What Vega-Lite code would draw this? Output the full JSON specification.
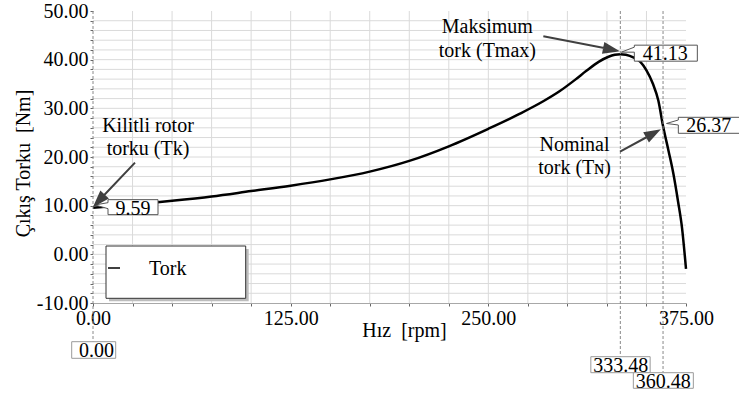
{
  "$schema": "https://vega.github.io/schema/vega-lite/v6.json",
  "width": 593,
  "height": 292,
  "autosize": {"type": "none"},
  "padding": {"left": 93, "top": 11, "right": 53, "bottom": 93},
  "config": {
    "view": {"stroke": null},
    "font": "Liberation Serif, Times New Roman, serif",
    "text": {"font": "Liberation Serif, Times New Roman, serif", "fontSize": 20, "color": "black"}
  },
  "resolve": {"axis": {"x": "independent", "y": "independent"}},
  "datasets": {
    "curve": [
      {"rpm": 0, "tork": 9.59},
      {"rpm": 25, "tork": 10.2},
      {"rpm": 50, "tork": 11.0},
      {"rpm": 75, "tork": 11.9},
      {"rpm": 100, "tork": 13.0},
      {"rpm": 125, "tork": 14.1},
      {"rpm": 150, "tork": 15.4},
      {"rpm": 175, "tork": 17.0},
      {"rpm": 200, "tork": 19.2},
      {"rpm": 225, "tork": 22.2},
      {"rpm": 250, "tork": 25.8},
      {"rpm": 270, "tork": 28.9},
      {"rpm": 285, "tork": 31.5},
      {"rpm": 295, "tork": 33.5},
      {"rpm": 305, "tork": 35.9},
      {"rpm": 312, "tork": 37.7},
      {"rpm": 320, "tork": 39.6},
      {"rpm": 326, "tork": 40.6},
      {"rpm": 330, "tork": 41.0},
      {"rpm": 333.48, "tork": 41.13},
      {"rpm": 337, "tork": 41.0},
      {"rpm": 342, "tork": 40.4},
      {"rpm": 346, "tork": 39.6},
      {"rpm": 350, "tork": 37.8},
      {"rpm": 354, "tork": 35.1},
      {"rpm": 357.5, "tork": 31.6},
      {"rpm": 360.48, "tork": 26.37},
      {"rpm": 364, "tork": 21.2},
      {"rpm": 367, "tork": 16.6},
      {"rpm": 370, "tork": 10.8},
      {"rpm": 372.5, "tork": 5.4},
      {"rpm": 375, "tork": -3.0}
    ],
    "markers": [
      {"key": "Tk", "rpm": 0, "tork": 9.59, "note": "Kilitli rotor\ntorku (Tk)"},
      {"key": "Tmax", "rpm": 333.48, "tork": 41.13, "note": "Maksimum\ntork (Tmax)"},
      {"key": "TN", "rpm": 360.48, "tork": 26.37, "note": "Nominal\ntork (Tɴ)"}
    ],
    "rpmGrid": [
      {"rpm": 25}, {"rpm": 50}, {"rpm": 75}, {"rpm": 100}, {"rpm": 125}, {"rpm": 150}, {"rpm": 175},
      {"rpm": 200}, {"rpm": 225}, {"rpm": 250}, {"rpm": 275}, {"rpm": 300}, {"rpm": 325}, {"rpm": 350}
    ],
    "torkGrid": [
      {"tork": -8}, {"tork": -6}, {"tork": -4}, {"tork": -2}, {"tork": 0}, {"tork": 2}, {"tork": 4},
      {"tork": 6}, {"tork": 8}, {"tork": 10}, {"tork": 12}, {"tork": 14}, {"tork": 16}, {"tork": 18},
      {"tork": 20}, {"tork": 22}, {"tork": 24}, {"tork": 26}, {"tork": 28}, {"tork": 30}, {"tork": 32},
      {"tork": 34}, {"tork": 36}, {"tork": 38}, {"tork": 40}, {"tork": 42}, {"tork": 44}, {"tork": 46},
      {"tork": 48}
    ],
    "series": [{"series": "Tork"}]
  },
  "layer": [
    {
      "data": {"name": "rpmGrid"},
      "mark": {"type": "rule", "color": "#dadada", "strokeWidth": 1},
      "encoding": {"x": {"field": "rpm", "type": "quantitative", "axis": null}}
    },
    {
      "data": {"name": "torkGrid"},
      "mark": {"type": "rule", "color": "#dadada", "strokeWidth": 1},
      "encoding": {"y": {"field": "tork", "type": "quantitative", "axis": null}}
    },
    {
      "data": {"name": "curve"},
      "mark": {"type": "line", "color": "black", "strokeWidth": 2.5, "interpolate": "monotone"},
      "encoding": {
        "x": {
          "field": "rpm", "type": "quantitative",
          "scale": {"domain": [0, 375], "nice": false, "zero": false},
          "axis": {
            "orient": "bottom",
            "grid": false,
            "title": "Hız\u00a0 [rpm]",
            "values": [0, 25, 50, 75, 100, 125, 150, 175, 200, 225, 250, 275, 300, 325, 350, 375],
            "labelExpr": "datum.value % 125 === 0 ? format(datum.value, '.2f') : ''",
            "labelFlush": false,
            "labelOverlap": false,
            "labelFont": "Liberation Serif, Times New Roman, serif",
            "labelFontSize": 20,
            "labelColor": "black",
            "labelPadding": 2,
            "tickSize": 3,
            "tickColor": "#666666",
            "domainColor": "#a8a8a8",
            "titleFont": "Liberation Serif, Times New Roman, serif",
            "titleFontSize": 20,
            "titleFontWeight": "normal",
            "titleColor": "black",
            "titleX": 311,
            "titleY": 33,
            "titleAlign": "center",
            "titleBaseline": "alphabetic"
          }
        },
        "y": {
          "field": "tork", "type": "quantitative",
          "scale": {"domain": [-10, 50], "nice": false, "zero": false},
          "axis": {
            "orient": "left",
            "grid": false,
            "title": "Çıkış Torku\u00a0 [Nm]",
            "values": [-10, -8, -6, -4, -2, 0, 2, 4, 6, 8, 10, 12, 14, 16, 18, 20, 22, 24, 26, 28, 30, 32, 34, 36, 38, 40, 42, 44, 46, 48, 50],
            "labelExpr": "datum.value % 10 === 0 ? (datum.value < 0 ? '-' : '') + format(abs(datum.value), '.2f') : ''",
            "labelOverlap": false,
            "labelFlush": false,
            "labelFont": "Liberation Serif, Times New Roman, serif",
            "labelFontSize": 20,
            "labelColor": "black",
            "labelPadding": 2,
            "tickSize": 3,
            "tickColor": "#666666",
            "domain": false,
            "titleFont": "Liberation Serif, Times New Roman, serif",
            "titleFontSize": 20,
            "titleFontWeight": "normal",
            "titleColor": "black",
            "titleAngle": -90,
            "titleX": -64,
            "titleY": 152,
            "titleAlign": "center",
            "titleBaseline": "alphabetic"
          }
        }
      }
    },
    {
      "mark": {"type": "rule", "color": "black", "strokeWidth": 1},
      "encoding": {"y": {"datum": 50, "type": "quantitative", "axis": null}}
    },
    {
      "mark": {"type": "rule", "color": "black", "strokeWidth": 1},
      "encoding": {"x": {"datum": 375, "type": "quantitative", "axis": null}}
    },
    {
      "data": {"name": "markers"},
      "transform": [{"filter": "datum.key === 'Tk'"}],
      "layer": [
        {
          "mark": {"type": "rule", "color": "#8a8a8a", "strokeWidth": 1, "strokeDash": [3, 2], "y2Offset": 38.7},
          "encoding": {
            "x": {"field": "rpm", "type": "quantitative", "axis": null},
            "y": {"datum": 50, "type": "quantitative", "axis": null},
            "y2": {"datum": -10}
          }
        },
        {
          "mark": {"type": "point", "shape": "M2,-2.7L15,-5L15,-8L65,-8L65,7L15,7L15,1Z", "size": 4, "filled": true, "fill": "white", "stroke": "#555555", "strokeWidth": 1, "opacity": 1},
          "encoding": {
            "x": {"field": "rpm", "type": "quantitative", "axis": null},
            "y": {"field": "tork", "type": "quantitative", "axis": null}
          }
        },
        {
          "mark": {"type": "text", "font": "Liberation Serif, Times New Roman, serif", "align": "center", "baseline": "alphabetic", "dx": 40, "dy": 7},
          "encoding": {
            "x": {"field": "rpm", "type": "quantitative", "axis": null},
            "y": {"field": "tork", "type": "quantitative", "axis": null},
            "text": {"field": "tork", "type": "quantitative", "format": ".2f"}
          }
        },
        {
          "mark": {"type": "point", "shape": "M42,-45L11,-12.4M2,-2.7L7.7,-15.5L14.2,-9.3Z", "size": 4, "filled": true, "fill": "#404040", "stroke": "#404040", "strokeWidth": 2, "opacity": 1},
          "encoding": {
            "x": {"field": "rpm", "type": "quantitative", "axis": null},
            "y": {"field": "tork", "type": "quantitative", "axis": null}
          }
        },
        {
          "mark": {"type": "text", "font": "Liberation Serif, Times New Roman, serif", "align": "center", "baseline": "alphabetic", "dx": 55, "dy": -76, "lineBreak": "\n", "lineHeight": 23.5},
          "encoding": {
            "x": {"field": "rpm", "type": "quantitative", "axis": null},
            "y": {"field": "tork", "type": "quantitative", "axis": null},
            "text": {"field": "note"}
          }
        },
        {
          "mark": {"type": "point", "shape": "M-21.3,38.7L22.7,38.7L22.7,55.3L-21.3,55.3Z", "size": 4, "filled": true, "fill": "white", "stroke": "#9a9a9a", "strokeWidth": 1, "opacity": 1},
          "encoding": {
            "x": {"field": "rpm", "type": "quantitative", "axis": null},
            "y": {"datum": -10, "type": "quantitative", "axis": null}
          }
        },
        {
          "mark": {"type": "text", "font": "Liberation Serif, Times New Roman, serif", "align": "center", "baseline": "alphabetic", "dx": 3.5, "dy": 53.7},
          "encoding": {
            "x": {"field": "rpm", "type": "quantitative", "axis": null},
            "y": {"datum": -10, "type": "quantitative", "axis": null},
            "text": {"field": "rpm", "type": "quantitative", "format": ".2f"}
          }
        }
      ]
    },
    {
      "data": {"name": "markers"},
      "transform": [{"filter": "datum.key === 'Tmax'"}],
      "layer": [
        {
          "mark": {"type": "rule", "color": "#8a8a8a", "strokeWidth": 1, "strokeDash": [3, 2], "y2Offset": 53.7},
          "encoding": {
            "x": {"field": "rpm", "type": "quantitative", "axis": null},
            "y": {"datum": 50, "type": "quantitative", "axis": null},
            "y2": {"datum": -10}
          }
        },
        {
          "mark": {"type": "point", "shape": "M1,-2L14,-7L14,-9L77,-9L77,7L14,7L14,-2Z", "size": 4, "filled": true, "fill": "white", "stroke": "#555555", "strokeWidth": 1, "opacity": 1},
          "encoding": {
            "x": {"field": "rpm", "type": "quantitative", "axis": null},
            "y": {"field": "tork", "type": "quantitative", "axis": null}
          }
        },
        {
          "mark": {"type": "text", "font": "Liberation Serif, Times New Roman, serif", "align": "center", "baseline": "alphabetic", "dx": 45, "dy": 6},
          "encoding": {
            "x": {"field": "rpm", "type": "quantitative", "axis": null},
            "y": {"field": "tork", "type": "quantitative", "axis": null},
            "text": {"field": "tork", "type": "quantitative", "format": ".2f"}
          }
        },
        {
          "mark": {"type": "point", "shape": "M-77,-18L-16.2,-6.1M-3.5,-3.5L-17.1,-1.7L-15.3,-10.5Z", "size": 4, "filled": true, "fill": "#404040", "stroke": "#404040", "strokeWidth": 2, "opacity": 1},
          "encoding": {
            "x": {"field": "rpm", "type": "quantitative", "axis": null},
            "y": {"field": "tork", "type": "quantitative", "axis": null}
          }
        },
        {
          "mark": {"type": "text", "font": "Liberation Serif, Times New Roman, serif", "align": "center", "baseline": "alphabetic", "dx": -133, "dy": -21, "lineBreak": "\n", "lineHeight": 24},
          "encoding": {
            "x": {"field": "rpm", "type": "quantitative", "axis": null},
            "y": {"field": "tork", "type": "quantitative", "axis": null},
            "text": {"field": "note"}
          }
        },
        {
          "mark": {"type": "point", "shape": "M-29.5,53.7L29.8,53.7L29.8,69.7L-29.5,69.7Z", "size": 4, "filled": true, "fill": "white", "stroke": "#9a9a9a", "strokeWidth": 1, "opacity": 1},
          "encoding": {
            "x": {"field": "rpm", "type": "quantitative", "axis": null},
            "y": {"datum": -10, "type": "quantitative", "axis": null}
          }
        },
        {
          "mark": {"type": "text", "font": "Liberation Serif, Times New Roman, serif", "align": "center", "baseline": "alphabetic", "dx": 0.5, "dy": 69.3},
          "encoding": {
            "x": {"field": "rpm", "type": "quantitative", "axis": null},
            "y": {"datum": -10, "type": "quantitative", "axis": null},
            "text": {"field": "rpm", "type": "quantitative", "format": ".2f"}
          }
        }
      ]
    },
    {
      "data": {"name": "markers"},
      "transform": [{"filter": "datum.key === 'TN'"}],
      "layer": [
        {
          "mark": {"type": "rule", "color": "#8a8a8a", "strokeWidth": 1, "strokeDash": [3, 2], "y2Offset": 69.7},
          "encoding": {
            "x": {"field": "rpm", "type": "quantitative", "axis": null},
            "y": {"datum": 50, "type": "quantitative", "axis": null},
            "y2": {"datum": -10}
          }
        },
        {
          "mark": {"type": "point", "shape": "M3.5,-2.5L15.3,-6L15.3,-8.7L80,-8.7L80,7.3L15.3,7.3L15.3,-1Z", "size": 4, "filled": true, "fill": "white", "stroke": "#555555", "strokeWidth": 1, "opacity": 1},
          "encoding": {
            "x": {"field": "rpm", "type": "quantitative", "axis": null},
            "y": {"field": "tork", "type": "quantitative", "axis": null}
          }
        },
        {
          "mark": {"type": "text", "font": "Liberation Serif, Times New Roman, serif", "align": "center", "baseline": "alphabetic", "dx": 45.8, "dy": 5.7},
          "encoding": {
            "x": {"field": "rpm", "type": "quantitative", "axis": null},
            "y": {"field": "tork", "type": "quantitative", "axis": null},
            "text": {"field": "tork", "type": "quantitative", "format": ".2f"}
          }
        },
        {
          "mark": {"type": "point", "shape": "M-43,25.7L-16.1,11M-4.7,4.7L-13.9,14.9L-18.3,7Z", "size": 4, "filled": true, "fill": "#404040", "stroke": "#404040", "strokeWidth": 2, "opacity": 1},
          "encoding": {
            "x": {"field": "rpm", "type": "quantitative", "axis": null},
            "y": {"field": "tork", "type": "quantitative", "axis": null}
          }
        },
        {
          "mark": {"type": "text", "font": "Liberation Serif, Times New Roman, serif", "align": "center", "baseline": "alphabetic", "dx": -88.5, "dy": 24.7, "lineBreak": "\n", "lineHeight": 23.5},
          "encoding": {
            "x": {"field": "rpm", "type": "quantitative", "axis": null},
            "y": {"field": "tork", "type": "quantitative", "axis": null},
            "text": {"field": "note"}
          }
        },
        {
          "mark": {"type": "point", "shape": "M-29.7,69.7L30.3,69.7L30.3,85.3L-29.7,85.3Z", "size": 4, "filled": true, "fill": "white", "stroke": "#9a9a9a", "strokeWidth": 1, "opacity": 1},
          "encoding": {
            "x": {"field": "rpm", "type": "quantitative", "axis": null},
            "y": {"datum": -10, "type": "quantitative", "axis": null}
          }
        },
        {
          "mark": {"type": "text", "font": "Liberation Serif, Times New Roman, serif", "align": "center", "baseline": "alphabetic", "dx": 0.3, "dy": 85},
          "encoding": {
            "x": {"field": "rpm", "type": "quantitative", "axis": null},
            "y": {"datum": -10, "type": "quantitative", "axis": null},
            "text": {"field": "rpm", "type": "quantitative", "format": ".2f"}
          }
        }
      ]
    },
    {
      "data": {"name": "series"},
      "layer": [
        {
          "mark": {"type": "rect", "color": "#bdbdbd", "xOffset": 16, "x2Offset": 155.7, "yOffset": -54, "y2Offset": -1.7},
          "encoding": {
            "x": {"datum": 0, "type": "quantitative", "axis": null},
            "x2": {"datum": 0},
            "y": {"datum": -10, "type": "quantitative", "axis": null},
            "y2": {"datum": -10}
          }
        },
        {
          "mark": {"type": "rect", "fill": "white", "stroke": "#333333", "strokeWidth": 1, "xOffset": 13, "x2Offset": 152.7, "yOffset": -57, "y2Offset": -4.7},
          "encoding": {
            "x": {"datum": 0, "type": "quantitative", "axis": null},
            "x2": {"datum": 0},
            "y": {"datum": -10, "type": "quantitative", "axis": null},
            "y2": {"datum": -10}
          }
        },
        {
          "mark": {"type": "rule", "color": "black", "strokeWidth": 1.5, "xOffset": 15, "x2Offset": 27, "yOffset": -35, "y2Offset": -35},
          "encoding": {
            "x": {"datum": 0, "type": "quantitative", "axis": null},
            "x2": {"datum": 0},
            "y": {"datum": -10, "type": "quantitative", "axis": null},
            "y2": {"datum": -10}
          }
        },
        {
          "mark": {"type": "text", "font": "Liberation Serif, Times New Roman, serif", "align": "left", "baseline": "alphabetic", "dx": 56, "dy": -28},
          "encoding": {
            "x": {"datum": 0, "type": "quantitative", "axis": null},
            "y": {"datum": -10, "type": "quantitative", "axis": null},
            "text": {"field": "series"}
          }
        }
      ]
    }
  ]
}
